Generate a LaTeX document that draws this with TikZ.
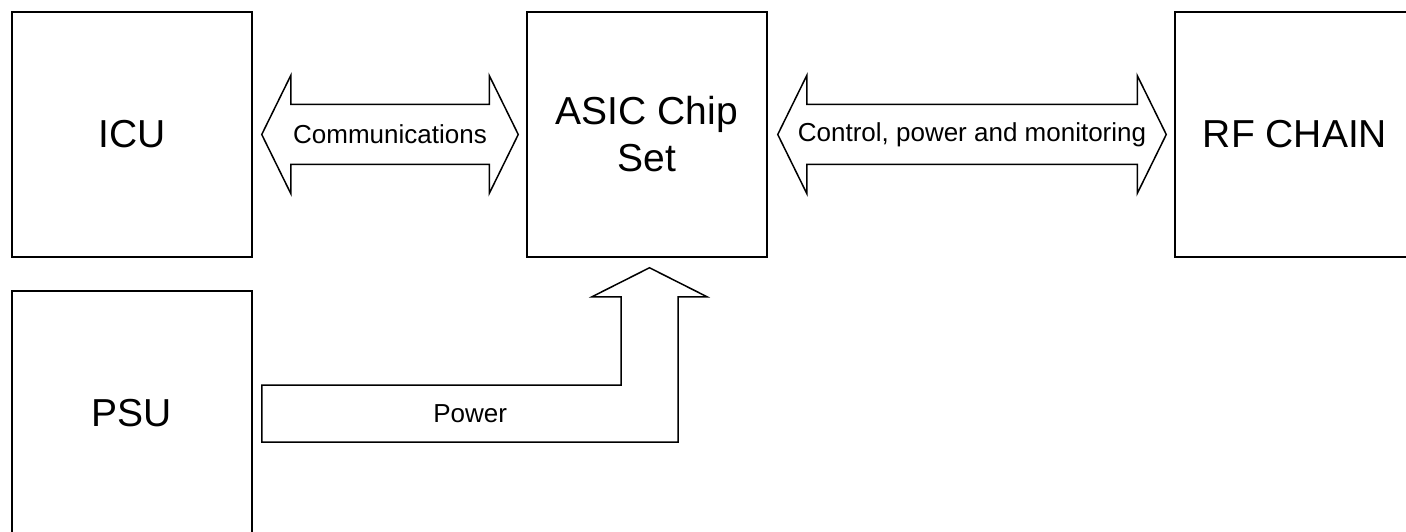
\documentclass[tikz,border=0pt]{standalone}
\usepackage{fontspec}
\setmainfont{Liberation Sans}
\usetikzlibrary{calc}

% fat double arrow from left tip #2 to right tip #3, label node #1
\newcommand{\fatdouble}[4]{%
  \draw[fat] let \p1=(#2), \p2=(#3) in
    (\x1,\y1) -- (\x1+29pt,\y1+59pt) -- (\x1+29pt,\y1+30pt) -- (\x2-29pt,\y2+30pt)
    -- (\x2-29pt,\y2+59pt) -- (\x2,\y2) -- (\x2-29pt,\y2-59pt) -- (\x2-29pt,\y2-30pt)
    -- (\x1+29pt,\y1-30pt) -- (\x1+29pt,\y1-59pt) -- cycle;
  \node[lbl] (#1) at ($(#2)!0.5!(#3)$) {#4};}

\begin{document}
\begin{tikzpicture}[x=1pt, y=-1pt,
  block/.style={draw, line width=1.5pt, minimum width=240pt, minimum height=245pt,
    inner sep=0pt, align=center, font=\fontsize{39}{47}\selectfont},
  fat/.style={draw, line width=1.5pt, line join=miter},
  lbl/.style={inner sep=0pt, font=\fontsize{26}{31}\selectfont}]
\useasboundingbox (0,0) rectangle (1406,532);

\node[block] (icu) at (132,134.5) {ICU};
\node[block] (psu) at (132,413.5) {PSU};
\node[block] (asic) at (647,134.5) {ASIC Chip\\Set};
\node[block] (rf) at (1295,134.5) {RF CHAIN};

\coordinate (commL) at ($(icu.east)+(9,0)$);
\coordinate (commR) at ($(asic.west)+(-8,0)$);
\coordinate (ctrlL) at ($(asic.east)+(10,0)$);
\coordinate (ctrlR) at ($(rf.west)+(-8,0)$);
\coordinate (pwrT) at ($(psu.east)+(9,0)$);
\coordinate (pwrH) at ($(asic.south)+(2.5,10)$);

\fatdouble{comm}{commL}{commR}{Communications}
\fatdouble{ctrl}{ctrlL}{ctrlR}{Control, power and monitoring}

% bent power arrow PSU -> ASIC
\draw[fat] let \p1=(pwrT), \p2=(pwrH) in
  (\x1,\y1+28.5pt) -- (\x2-28.5pt,\y1+28.5pt) -- (\x2-28.5pt,\y2-29pt) -- (\x2-57.5pt,\y2-29pt)
  -- (\x2,\y2) -- (\x2+57.5pt,\y2-29pt) -- (\x2+28.5pt,\y2-29pt) -- (\x2+28.5pt,\y1-28.5pt)
  -- (\x1,\y1-28.5pt) -- cycle;
\node[lbl] (pwr) at ($(pwrT)+(208.5,0)$) {Power};
\end{tikzpicture}
\end{document}
